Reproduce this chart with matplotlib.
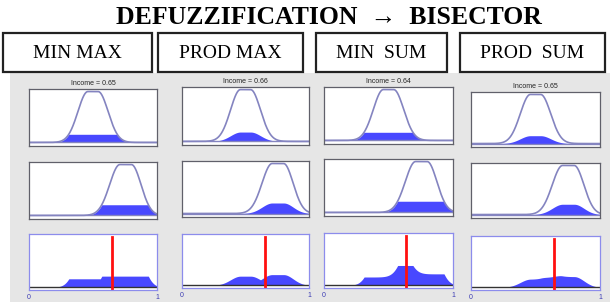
import numpy as np
import matplotlib
matplotlib.use("Agg")
import matplotlib.pyplot as plt
from matplotlib.patches import Rectangle

# values
methods = ["MIN MAX", "PROD MAX", "MIN  SUM", "PROD  SUM"]
income = [0.65, 0.66, 0.64, 0.65]
implication = ["min", "prod", "min", "prod"]
aggregation = ["max", "max", "sum", "sum"]
level_rule1 = [0.16, 0.18, 0.16, 0.16]
level_rule2 = [0.21, 0.21, 0.22, 0.21]
bisector = [0.646, 0.654, 0.636, 0.643]
# gauss2mf params: sigma left, flat start, sigma right, flat end
mf_rule1 = [0.078, 0.46, 0.078, 0.54]
mf_rule2 = [0.08, 0.71, 0.075, 0.80]

W, H = 610, 302
# axes boxes in pixels: x0, x1, then (top, bottom) for the three rows
col_x = [(29, 157), (182, 309), (324, 453), (471, 600)]
col_rows = [
    [(89, 146), (162, 219), (234, 290)],
    [(87, 145), (161, 217), (234, 288)],
    [(87, 144), (159, 216), (233, 288)],
    [(92, 147), (163, 218), (236, 290)],
]
boxes = [(3, 152), (158, 303), (316, 447), (460, 605)]

BLUE = "#4848ff"
MFLINE = "#8484c0"


def gauss2mf(x, s1, c1, s2, c2):
    y = np.ones_like(x)
    m = x < c1
    y[m] = np.exp(-((x[m] - c1) ** 2) / (2 * s1 ** 2))
    m = x > c2
    y[m] = np.exp(-((x[m] - c2) ** 2) / (2 * s2 ** 2))
    return y


def px_axes(fig, x0, x1, top, bottom):
    return fig.add_axes([x0 / W, 1 - bottom / H, (x1 - x0) / W, (bottom - top) / H])


fig = plt.figure(figsize=(W / 100, H / 100), dpi=100)
fig.patch.set_facecolor("white")

# grey viewer background
bg = fig.add_axes([10 / W, 0, 1 - 10 / W, 1 - 73 / H])
bg.set_facecolor("#e6e6e6")
bg.set_xticks([])
bg.set_yticks([])
for s in bg.spines.values():
    s.set_visible(False)

fig.text(0.539, 1 - 18 / H, "DEFUZZIFICATION  \u2192  BISECTOR",
         ha="center", va="center", fontsize=18.5, fontweight="bold",
         family=["Liberation Serif", "DejaVu Serif"])

for (bx0, bx1), name in zip(boxes, methods):
    fig.patches.append(Rectangle((bx0 / W, 1 - 72 / H), (bx1 - bx0) / W, 39 / H,
                                 transform=fig.transFigure, facecolor="white",
                                 edgecolor="#222222", linewidth=1.6))
    fig.text((bx0 + bx1) / 2 / W, 1 - 53 / H, name, ha="center", va="center",
             fontsize=14, family="Liberation Serif")

x = np.linspace(0, 1, 501)
mf1 = gauss2mf(x, *mf_rule1)
mf2 = gauss2mf(x, *mf_rule2)

for i in range(4):
    x0, x1 = col_x[i]
    if implication[i] == "min":
        out1 = np.minimum(mf1, level_rule1[i])
        out2 = np.minimum(mf2, level_rule2[i])
    else:
        out1 = mf1 * level_rule1[i]
        out2 = mf2 * level_rule2[i]
    if aggregation[i] == "max":
        agg = np.maximum(out1, out2)
    else:
        agg = out1 + out2

    for r, (mf, out) in enumerate([(mf1, out1), (mf2, out2)]):
        top, bottom = col_rows[i][r]
        ax = px_axes(fig, x0, x1, top, bottom)
        ax.fill_between(x, 0, out, color=BLUE, lw=0)
        ax.plot(x, mf, color=MFLINE, lw=1.2)
        ax.axhline(0, color=MFLINE, lw=1.0)
        ax.set_xlim(0, 1)
        ax.set_ylim(-0.07, 1.05)
        ax.set_xticks([])
        ax.set_yticks([])
        for s in ax.spines.values():
            s.set_color("#60606a")
            s.set_linewidth(0.9)
        if r == 0:
            ax.set_title(f"Income = {income[i]:.2f}", fontsize=5, pad=3,
                         color="#222222", family="Liberation Sans")

    top, bottom = col_rows[i][2]
    ax = px_axes(fig, x0, x1, top, bottom)
    ax.fill_between(x, 0, agg, color=BLUE, lw=0)
    ax.axhline(0, color="#333333", lw=1.0)
    ax.plot([bisector[i], bisector[i]], [-0.05, 0.95], color="#ff1010", lw=2)
    ax.set_xlim(0, 1)
    ax.set_ylim(-0.05, 1.0)
    ax.set_yticks([])
    ax.set_xticks([0, 1])
    ax.set_xticklabels(["0", "1"], fontsize=5, color="#3c3cb4",
                       family="Liberation Sans")
    ax.tick_params(axis="x", length=0, pad=3)
    for s in ax.spines.values():
        s.set_color("#8c8cec")
        s.set_linewidth(0.9)

fig.savefig("out.png", dpi=100)
